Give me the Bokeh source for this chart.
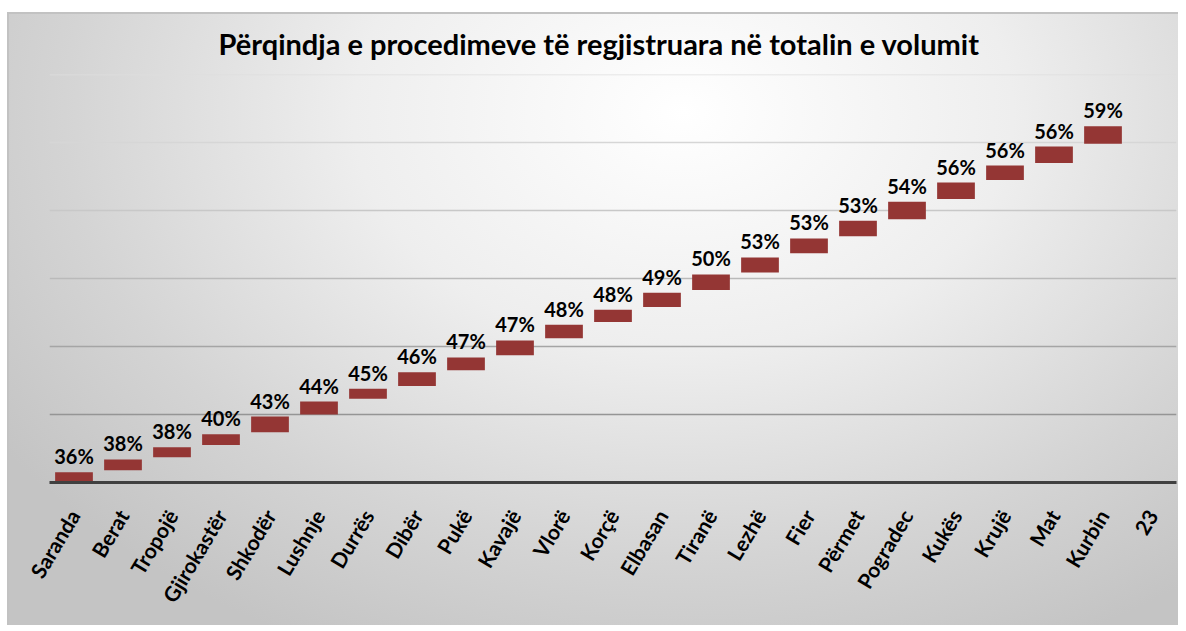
from bokeh.plotting import figure
from bokeh.models import ColumnDataSource, FactorRange, Range1d, Span
from bokeh.core.properties import value
from bokeh.embed import file_html
from bokeh.resources import INLINE

title_text = "Përqindja e procedimeve të regjistruara në totalin e volumit"

categories = ["Saranda", "Berat", "Tropojë", "Gjirokastër", "Shkodër", "Lushnje",
              "Durrës", "Dibër", "Pukë", "Kavajë", "Vlorë", "Korçë", "Elbasan",
              "Tiranë", "Lezhë", "Fier", "Përmet", "Pogradec", "Kukës", "Krujë",
              "Mat", "Kurbin", "23"]

pct_labels = ["36%", "38%", "38%", "40%", "43%", "44%", "45%", "46%", "47%", "47%",
              "48%", "48%", "49%", "50%", "53%", "53%", "53%", "54%", "56%", "56%",
              "56%", "59%"]

bar_low = [0.00, 0.18, 0.37, 0.55, 0.74, 1.00, 1.23, 1.42, 1.65, 1.87, 2.12,
           2.36, 2.58, 2.83, 3.09, 3.37, 3.62, 3.87, 4.17, 4.45, 4.70, 4.98]
bar_high = [0.15, 0.34, 0.52, 0.71, 0.97, 1.19, 1.38, 1.62, 1.84, 2.09, 2.32,
            2.54, 2.79, 3.06, 3.31, 3.59, 3.85, 4.13, 4.41, 4.66, 4.94, 5.24]

grid_levels = [1, 2, 3, 4, 5, 6]
grid_colors = ["#959595", "#a5a5a5", "#bababa", "#c8c8c8", "#d6d6d6", "#dedede"]

src = ColumnDataSource(dict(cat=categories[:len(bar_high)], low=bar_low,
                            high=bar_high, label=pct_labels))

p = figure(x_range=FactorRange(factors=categories, range_padding=0),
           y_range=Range1d(0, 6),
           width=1178, height=625, output_backend="svg", toolbar_location=None,
           min_border_left=49, min_border_right=2, min_border_top=74,
           min_border_bottom=143)

p.background_fill_color = None
p.border_fill_color = None
p.outline_line_color = None
p.styles = {
    "background": "radial-gradient(ellipse 70% 95% at 58% 18%, #ffffff 0%, #eeeeee 40%, #d4d4d4 75%, #c4c4c4 100%)",
    "box-shadow": "inset 7px 12px 0 0 #ffffff, inset 9px 14px 0 0 #c2c2c2",
}

p.title.text = title_text
p.title.align = "left"
p.title.offset = 169
p.title.text_font = "Lato"
p.title.text_font_size = "29px"
p.title.text_font_style = "bold"
p.title.text_color = "#000000"
p.title.standoff = 27

for lvl, col in zip(grid_levels, grid_colors):
    p.add_layout(Span(location=lvl, dimension="width", line_color=col,
                      line_width=1.5, level="underlay"))

p.xgrid.visible = False
p.ygrid.visible = False
p.yaxis.visible = False

p.vbar(x="cat", bottom="low", top="high", width=0.77, source=src,
       fill_color="#943634", line_color=None)

p.text(x="cat", y="high", text="label", source=src, text_align="center",
       text_baseline="bottom", y_offset=-4, text_font=value("Lato"),
       text_font_size="20px", text_font_style="bold", text_color="#000000")

ax = p.xaxis[0]
ax.axis_line_color = "#404040"
ax.axis_line_width = 3
ax.major_tick_line_color = None
ax.minor_tick_line_color = None
ax.major_label_orientation = 1.03
ax.major_label_text_font = "Lato"
ax.major_label_text_font_size = "21px"
ax.major_label_text_font_style = "bold"
ax.major_label_text_color = "#000000"
ax.major_label_standoff = 23

open("out.html", "w").write(file_html(p, INLINE))
